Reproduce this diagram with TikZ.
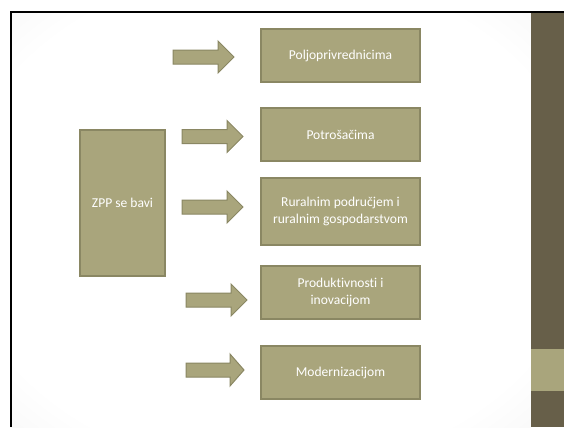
\documentclass[tikz,border=0pt]{standalone}
\usepackage{fontspec}
\setmainfont{Carlito}[Ligatures={NoCommon}]
\pgfdeclareradialshading{slidebg}{\pgfpoint{0bp}{0bp}}{color(0bp)=(white); color(30bp)=(white); color(71bp)=(black!16)}
\definecolor{boxfill}{HTML}{A9A57C}
\definecolor{boxline}{HTML}{8A8763}
\definecolor{panel}{HTML}{675F49}
\begin{document}
\begin{tikzpicture}[x=1bp,y=-1bp,
  itembox/.style={draw=boxline,line width=1.2bp,fill=boxfill,text=white,
    font=\fontsize{13.6}{17.5}\selectfont,align=center,inner sep=0pt},
  blockarrow/.style={draw=boxline,line width=1bp,fill=boxfill,line join=miter}]
\useasboundingbox (0,0) rectangle (564,427);
\fill[white] (0,0) rectangle (564,427);
\shade[shading=slidebg] (11,12) rectangle (531,427);
% right panel
\fill[panel] (531,12) rectangle (564,427);
\fill[boxfill] (531,349) rectangle (564,391);
% frame
\draw[black,line width=1.6bp] (11,427) -- (11,12) -- (564,12);
% boxes
\node[itembox,minimum width=85bp,minimum height=146bp] (zpp) at (122.5,203) {ZPP se bavi};
\node[itembox,minimum width=159bp,minimum height=53bp] (b1) at (340.5,55.5) {Poljoprivrednicima};
\node[itembox,minimum width=159bp,minimum height=53bp] (b2) at (340.5,134.5) {Potrošačima};
\node[itembox,minimum width=159bp,minimum height=67bp] (b3) at (340.5,211.5) {Ruralnim područjem i\\ruralnim gospodarstvom};
\node[itembox,minimum width=159bp,minimum height=53bp] (b4) at (340.5,292.5) {Produktivnosti i\\inovacijom};
\node[itembox,minimum width=159bp,minimum height=53bp] (b5) at (340.5,372.5) {Modernizacijom};
% block arrows
\newcommand{\blkarrow}[4]{%
  \draw[blockarrow] (#1,#4-7) -- (#3,#4-7) -- (#3,#4-16) -- (#2,#4) -- (#3,#4+16) -- (#3,#4+7) -- (#1,#4+7) -- cycle;}
\blkarrow{173}{234}{218}{57}
\blkarrow{182}{243}{227}{136.5}
\blkarrow{182}{243}{227}{207}
\blkarrow{186}{247}{231}{300}
\blkarrow{186}{244}{230}{370}
\end{tikzpicture}
\end{document}
